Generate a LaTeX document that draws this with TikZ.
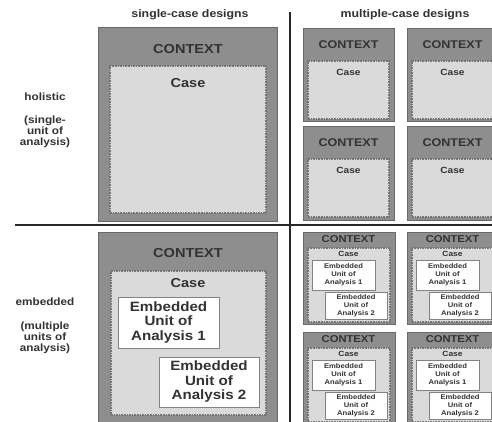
\documentclass[tikz,border=0pt]{standalone}
\usepackage{fontspec}
\setmainfont{Liberation Sans}[FakeStretch=1.12]
\definecolor{ctxgray}{RGB}{142,142,142}
\definecolor{ctxline}{RGB}{105,105,105}
\definecolor{casefill}{RGB}{218,218,218}
\definecolor{caseline}{RGB}{118,118,118}
\definecolor{unitline}{RGB}{130,130,130}
\definecolor{txt}{RGB}{50,50,50}
\definecolor{rule}{RGB}{40,40,40}
\begin{document}
\begin{tikzpicture}[x=1pt,y=-1pt,
  every node/.style={font=\bfseries, text=txt, inner sep=0pt, outer sep=0pt},
  ctx/.style={draw=ctxline, fill=ctxgray, line width=1pt, anchor=north west},
  casebox/.style={draw=caseline, fill=casefill, dash pattern=on 1.6pt off 1pt, line width=1.1pt, anchor=north west},
  unitbox/.style={draw=unitline, fill=white, line width=0.9pt, anchor=north west},
  hdr/.style={font=\bfseries\fontsize{11}{12}\selectfont},
  side/.style={font=\bfseries\fontsize{10.5}{11}\selectfont, align=center},
  bigctx/.style={font=\bfseries\fontsize{13}{14}\selectfont},
  bigcase/.style={font=\bfseries\fontsize{13}{14}\selectfont},
  bigunit/.style={font=\bfseries\fontsize{13.5}{14.5}\selectfont, align=center},
  smctx/.style={font=\bfseries\fontsize{11.2}{12}\selectfont},
  smcase/.style={font=\bfseries\fontsize{9}{10}\selectfont},
  emctx/.style={font=\bfseries\fontsize{10}{11}\selectfont},
  emcase/.style={font=\bfseries\fontsize{7.5}{8}\selectfont},
  emunit/.style={font=\bfseries\fontsize{6.8}{8.2}\selectfont, align=center},
  rulestyle/.style={draw=rule, line width=1.6pt}]
\useasboundingbox[fill=white] (0,0) rectangle (492,422);
\clip (0,0) rectangle (492,422);

% headers and side labels
\node[hdr] (hsingle) at (190,15) {single-case designs};
\node[hdr] (hmulti) at (405,15) {multiple-case designs};
\node[side] (lhol) at (45,97) {holistic};
\node[side] (lholp) at (45,132) {(single-\\unit of\\analysis)};
\node[side] (lemb) at (45,302) {embedded};
\node[side] (lembp) at (45,338) {(multiple\\units of\\analysis)};

% dividers
\coordinate (vtop) at (290,12);
\coordinate (vbot) at (290,422);
\coordinate (hl) at (15,225);
\coordinate (hr) at (492,225);
\draw[rulestyle] (vtop) -- (vbot);
\draw[rulestyle] (hl) -- (hr);

% holistic single
\node[ctx, minimum width=179pt, minimum height=193pt] (hs) at (98,28) {};
\node[casebox, minimum width=156pt, minimum height=147pt] (hsc) at (110,66) {};
\node[bigctx] (hsct) at (188,49) {CONTEXT};
\node[bigcase] (hscase) at (188,83) {Case};

% holistic multiple
\foreach \dx/\dy [count=\i] in {0/0, 104/0, 0/98, 104/98}{
  \node[ctx, minimum width=91pt, minimum height=93pt] (hm\i) at (303+\dx,29+\dy) {};
  \node[casebox, minimum width=81pt, minimum height=58pt] (hmc\i) at (308+\dx,61+\dy) {};
  \node[smctx] (hmt\i) at (348.5+\dx,45+\dy) {CONTEXT};
  \node[smcase] (hmcase\i) at (348.5+\dx,72+\dy) {Case};
}

% embedded single
\node[ctx, minimum width=179pt, minimum height=192pt] (es) at (98,232) {};
\node[casebox, minimum width=155pt, minimum height=144pt] (esc) at (111,271) {};
\node[bigctx] (esct) at (188,253) {CONTEXT};
\node[bigcase] (escase) at (188,283) {Case};
\node[unitbox, minimum width=101pt, minimum height=51pt] (esu1) at (118,297) {};
\node[bigunit] (esu1t) at (esu1.center) {Embedded\\Unit of\\Analysis 1};
\node[unitbox, minimum width=100pt, minimum height=50pt] (esu2) at (159,357) {};
\node[bigunit] (esu2t) at (esu2.center) {Embedded\\Unit of\\Analysis 2};

% embedded multiple
\foreach \dx/\dy [count=\i] in {0/0, 104/0, 0/100, 104/100}{
  \node[ctx, minimum width=92pt, minimum height=92pt] (em\i) at (303+\dx,232+\dy) {};
  \node[casebox, minimum width=82pt, minimum height=74pt] (emc\i) at (308+\dx,248+\dy) {};
  \node[emctx] (emt\i) at (348.5+\dx,239.5+\dy) {CONTEXT};
  \node[emcase] (emcase\i) at (348.5+\dx,254+\dy) {Case};
  \node[unitbox, minimum width=63pt, minimum height=30pt] (emu1\i) at (312+\dx,260+\dy) {};
  \node[emunit] (emu1t\i) at (emu1\i.center) {Embedded\\Unit of\\Analysis 1};
  \node[unitbox, minimum width=62pt, minimum height=27pt] (emu2\i) at (325+\dx,292+\dy) {};
  \node[emunit] (emu2t\i) at (emu2\i.center) {Embedded\\Unit of\\Analysis 2};
}
\end{tikzpicture}
\end{document}
